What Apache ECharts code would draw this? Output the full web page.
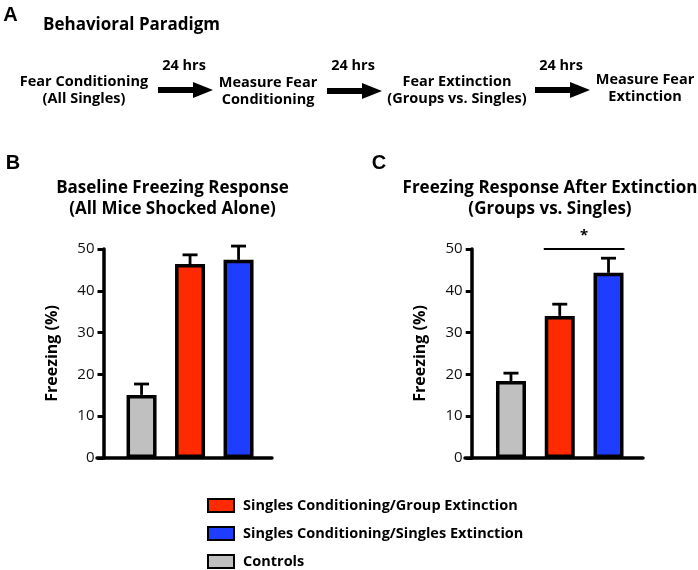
<!DOCTYPE html>
<html><head><meta charset="utf-8">
<script src="https://cdn.jsdelivr.net/npm/echarts/dist/echarts.min.js"></script>
<style>html,body{margin:0;padding:0;background:#fff}#c{width:698px;height:570px}</style>
</head><body><div id="c"></div>
<script>
// ---- data ----
const categories = ['Controls', 'Singles Conditioning/Group Extinction', 'Singles Conditioning/Singles Extinction'];
const legendOrder = [categories[1], categories[2], categories[0]];
const barColors = ['#c0c0c0', '#ff2a00', '#1f3dff'];
const baselineMeans = [15.1, 46.4, 47.4];
const baselineErrors = [2.6, 2.2, 3.3];
const extinctionMeans = [18.4, 34.0, 44.3];
const extinctionErrors = [1.9, 2.8, 3.5];
const significancePairs = [[1, 2, 50, '*']];
const panelTitles = ['Baseline Freezing Response\n(All Mice Shocked Alone)', 'Freezing Response After Extinction\n(Groups vs. Singles)'];
const yAxisName = 'Freezing (%)';
const paradigmSteps = ['Fear Conditioning\n(All Singles)', 'Measure Fear\nConditioning', 'Fear Extinction\n(Groups vs. Singles)', 'Measure Fear\nExtinction'];
const intervalLabel = '24 hrs';

// ---- layout ----
const FONT = '"Open Sans", sans-serif';
const INK = '#000';
const panels = [
  {means: baselineMeans, errs: baselineErrors, left: 117.3, width: 145.5, offset: 13.8, lineLeft: 97, lineWidth: 175},
  {means: extinctionMeans, errs: extinctionErrors, left: 486.6, width: 146.3, offset: 14.9, lineLeft: 465, lineWidth: 178}
];
const TOP = 249, HEIGHT = 209;

const grid = [], xAxis = [], yAxis = [], series = [];
panels.forEach((p, gi) => {
  grid.push({left: p.left, top: TOP, width: p.width, height: HEIGHT});
  xAxis.push({type: 'category', gridIndex: gi, data: categories, axisLine: {show: false}, axisTick: {show: false}, axisLabel: {show: false}});
  yAxis.push({type: 'value', gridIndex: gi, min: 0, max: 50, interval: 10, offset: p.offset,
    axisLine: {show: true, lineStyle: {color: INK, width: 3.5}},
    axisTick: {show: true, length: 6, lineStyle: {color: INK, width: 3}},
    axisLabel: {fontSize: 15, color: '#111', margin: 9, fontFamily: FONT},
    splitLine: {show: false},
    name: yAxisName, nameLocation: 'middle', nameRotate: 90, nameGap: 43,
    nameTextStyle: {fontSize: 16, fontWeight: 'bold', color: INK, fontFamily: FONT}
  });
  categories.forEach((cat, k) => {
    series.push({type: 'bar', name: cat, xAxisIndex: gi, yAxisIndex: gi,
      data: p.means.map((v, i) => i === k ? v : '-'),
      barWidth: 30, barGap: '-100%', z: 3,
      itemStyle: {color: barColors[k], borderColor: INK, borderWidth: 3.5}
    });
  });
  series.push({type: 'custom', xAxisIndex: gi, yAxisIndex: gi, z: 2,
    encode: {x: 0, y: [1, 2]},
    data: p.means.map((v, i) => [i, v, v + p.errs[i]]),
    renderItem: function (params, api) {
      const lo = api.coord([api.value(0), api.value(1)]);
      const hi = api.coord([api.value(0), api.value(2)]);
      const cap = 15;
      return {type: 'group', children: [
        {type: 'line', shape: {x1: lo[0], y1: lo[1], x2: hi[0], y2: hi[1]}, style: {stroke: INK, lineWidth: 2.8}},
        {type: 'line', shape: {x1: hi[0] - cap / 2, y1: hi[1], x2: hi[0] + cap / 2, y2: hi[1]}, style: {stroke: INK, lineWidth: 2.8}}
      ]};
    }
  });
});
// significance bracket on panel C
series.push({type: 'custom', xAxisIndex: 1, yAxisIndex: 1, z: 4,
  encode: {x: [0, 1], y: 2},
  data: significancePairs,
  renderItem: function (params, api) {
    const a = api.coord([api.value(0), api.value(2)]);
    const b = api.coord([api.value(1), api.value(2)]);
    const half = 16;
    return {type: 'group', children: [
      {type: 'line', shape: {x1: a[0] - half, y1: a[1], x2: b[0] + half, y2: b[1]}, style: {stroke: INK, lineWidth: 2}},
      {type: 'text', x: (a[0] + b[0]) / 2, y: a[1] - 13, style: {text: significancePairs[params.dataIndex][3], font: 'bold 15px ' + FONT, fill: INK, align: 'center', verticalAlign: 'middle'}}
    ]};
  }
});
// x-axis baselines (helper grids)
panels.forEach((p, gi) => {
  grid.push({left: p.lineLeft, top: TOP, width: p.lineWidth, height: HEIGHT});
  xAxis.push({type: 'value', gridIndex: 2 + gi, min: 0, max: 1, axisLine: {show: true, onZero: false, lineStyle: {color: INK, width: 3.5}}, axisTick: {show: false}, axisLabel: {show: false}, splitLine: {show: false}});
  yAxis.push({type: 'value', gridIndex: 2 + gi, min: 0, max: 1, show: false});
});

// ---- graphics (paradigm diagram, titles, panel letters) ----
const graphic = [];
function txt(x, y, text, font, lh) {
  graphic.push({type: 'text', x: x, y: y, style: {text: text, font: font, fill: INK, align: 'center', verticalAlign: 'middle', lineHeight: lh || 17}});
}
txt(10.5, 15, 'A', 'bold 20px "Liberation Sans", Arial, sans-serif');
txt(13, 163, 'B', 'bold 20px "Liberation Sans", Arial, sans-serif');
txt(379, 163, 'C', 'bold 20px "Liberation Sans", Arial, sans-serif');
graphic.push({type: 'text', x: 43, y: 25, style: {text: 'Behavioral Paradigm', font: 'bold 17px ' + FONT, fill: INK, align: 'left', verticalAlign: 'middle'}});
const stepPos = [[84, 90.5], [268, 91.5], [457, 90.5], [645, 88.5]];
paradigmSteps.forEach((s, i) => txt(stepPos[i][0], stepPos[i][1], s, 'bold 14.5px ' + FONT, 16.5));
const arrows = [[158, 213, 90], [327, 382, 91], [535, 590, 90]];
arrows.forEach(a => {
  const [x0, x1, y] = a;
  const xh = x1 - 20;
  graphic.push({type: 'polygon', shape: {points: [[x0, y - 3], [xh, y - 3], [xh, y - 8], [x1, y], [xh, y + 8], [xh, y + 3], [x0, y + 3]]}, style: {fill: INK}});
  txt((x0 + x1) / 2 - 1.5, 66, intervalLabel, 'bold 14.5px ' + FONT);
});
txt(172.5, 198.5, panelTitles[0], 'bold 17px ' + FONT, 21);
txt(550, 198.5, panelTitles[1], 'bold 17px ' + FONT, 21);

const chart = echarts.init(document.getElementById('c'), null, {renderer: 'canvas'});
chart.setOption({
  animation: false,
  backgroundColor: '#fff',
  grid: grid, xAxis: xAxis, yAxis: yAxis, series: series, graphic: graphic,
  legend: {orient: 'vertical', left: 207, top: 498, padding: 0, itemWidth: 26, itemHeight: 13, itemGap: 13,
    icon: 'rect', selectedMode: false, data: legendOrder,
    itemStyle: {borderWidth: 2, borderColor: INK},
    textStyle: {fontSize: 14.5, fontWeight: 'bold', color: INK, fontFamily: FONT, lineHeight: 14, padding: [0, 0, 0, 4]}
  }
});
</script></body></html>
